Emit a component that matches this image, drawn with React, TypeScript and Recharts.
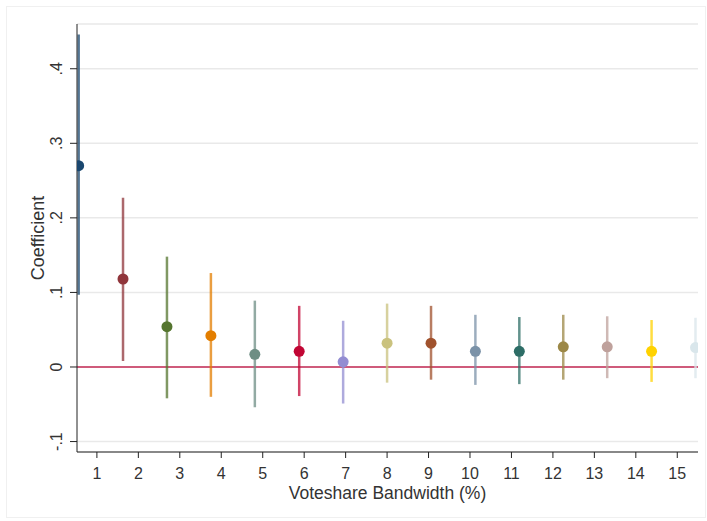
import React from 'react';
import {
  ComposedChart,
  Scatter,
  ErrorBar,
  XAxis,
  YAxis,
  CartesianGrid,
  ReferenceLine,
} from 'recharts';

// bandwidth categories (x ticks)
const bandwidths = [1, 2, 3, 4, 5, 6, 7, 8, 9, 10, 11, 12, 13, 14, 15];
// where each estimate sits on the x scale
const xPositions = [0.56, 1.63, 2.69, 3.75, 4.81, 5.88, 6.94, 8.0, 9.06, 10.13, 11.19, 12.25, 13.31, 14.38, 15.44];
// point estimates and 95% CI bounds
const coefficients = [0.27, 0.118, 0.054, 0.042, 0.017, 0.021, 0.007, 0.032, 0.032, 0.021, 0.021, 0.027, 0.027, 0.021, 0.026];
const ciLower = [0.097, 0.008, -0.042, -0.04, -0.054, -0.039, -0.049, -0.021, -0.017, -0.024, -0.023, -0.017, -0.015, -0.02, -0.015];
const ciUpper = [0.446, 0.227, 0.148, 0.126, 0.089, 0.082, 0.062, 0.085, 0.082, 0.07, 0.067, 0.07, 0.068, 0.063, 0.066];
const yTicks = [-0.1, 0, 0.1, 0.2, 0.3, 0.4];

// stata s2color palette
const palette = [
  '#1a476f', '#90353b', '#55752f', '#e37e00', '#6e8e84',
  '#c10534', '#938dd2', '#cac27e', '#a0522d', '#7b92a8',
  '#2d6d66', '#9c8847', '#bfa19c', '#ffd200', '#d9e6eb',
];

const rows = bandwidths.map((b, i) => ({
  bw: b,
  x: xPositions[i],
  y: coefficients[i],
  err: [coefficients[i] - ciLower[i], ciUpper[i] - coefficients[i]],
}));

const FONT = '"Liberation Sans", Arial, sans-serif';

const fmtY = (v: number) => {
  const r = Math.round(v * 10) / 10;
  if (r === 0) return '0';
  return String(r).replace('0.', '.');
};

const YTick = (props: any) => {
  const { x, y, payload } = props;
  return (
    <text
      x={x}
      y={y}
      transform={`rotate(-90 ${x} ${y})`}
      textAnchor="middle"
      fontSize={16}
      fontFamily={FONT}
      fill="#333"
    >
      {fmtY(payload.value)}
    </text>
  );
};

const YTitle = (props: any) => {
  const vb = props.viewBox;
  const x = vb.x + 44;
  const y = vb.y + vb.height / 2;
  return (
    <text
      x={x}
      y={y}
      transform={`rotate(-90 ${x} ${y})`}
      textAnchor="middle"
      fontSize={18}
      fontFamily={FONT}
      fill="#333"
    >
      Coefficient
    </text>
  );
};

const XTitle = (props: any) => {
  const vb = props.viewBox;
  return (
    <text
      x={vb.x + vb.width / 2}
      y={vb.y + 47}
      textAnchor="middle"
      fontSize={17.5}
      fontFamily={FONT}
      fill="#333"
    >
      Voteshare Bandwidth (%)
    </text>
  );
};

export default function App() {
  return (
    <div style={{ position: 'absolute', left: 0, top: 0, width: 707, height: 521, background: '#fff' }}>
      <div
        style={{
          position: 'absolute',
          left: 6,
          top: 6,
          width: 700,
          height: 512,
          border: '1px solid #f0f0f0',
          boxSizing: 'border-box',
        }}
      />
      <div style={{ position: 'absolute', left: 0, top: 0 }}>
        <ComposedChart
          width={707}
          height={521}
          data={rows}
          margin={{ top: 24, right: 9, bottom: 36, left: 0 }}
        >
          <CartesianGrid vertical={false} stroke="#e9e9e9" strokeWidth={1.5} />
          <XAxis
            type="number"
            dataKey="x"
            domain={[0.52, 15.5]}
            ticks={bandwidths}
            allowDataOverflow
            height={33}
            tickSize={6}
            tickMargin={10}
            stroke="#222"
            tick={{ fontSize: 16, fontFamily: FONT, fill: '#333' }}
            label={{ content: XTitle }}
          />
          <YAxis
            type="number"
            domain={[-0.114, 0.46]}
            ticks={yTicks}
            allowDataOverflow
            width={77}
            tickSize={7}
            tickMargin={8}
            stroke="#222"
            tick={<YTick />}
            label={{ content: YTitle }}
          />
          <ReferenceLine y={0} stroke="#c42a55" strokeWidth={1.5} />
          {rows.map((r, i) => (
            <Scatter
              key={r.bw}
              data={[r]}
              dataKey="y"
              fill={palette[i]}
              isAnimationActive={false}
              shape={(p: any) => <circle cx={p.cx} cy={p.cy} r={5.5} fill={palette[i]} />}
            >
              <ErrorBar
                dataKey="err"
                direction="y"
                width={0}
                stroke={palette[i]}
                strokeWidth={2.5}
                strokeOpacity={0.75}
                isAnimationActive={false}
              />
            </Scatter>
          ))}
        </ComposedChart>
      </div>
    </div>
  );
}
